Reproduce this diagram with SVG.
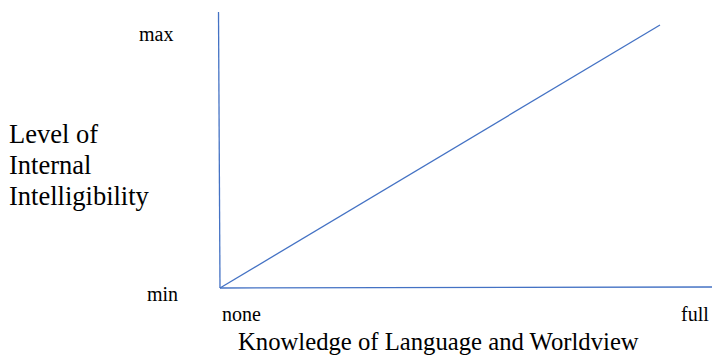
<svg xmlns="http://www.w3.org/2000/svg" width="713" height="358" viewBox="0 0 713 358">
<style>
text { font-family: "Liberation Serif", "Times New Roman", serif; fill: #000; }
.s { font-size: 20px; }
.l { font-size: 26.5px; }
.b { font-size: 24.7px; }
.ax { stroke: #4472C4; stroke-width: 1.3; fill: none; }
</style>
<rect width="713" height="358" fill="#fff"/>
<g id="connectors">
<line class="ax" x1="218.5" y1="12" x2="220" y2="288"/>
<line class="ax" x1="220" y1="288" x2="712" y2="287"/>
<line class="ax" x1="220" y1="288" x2="660" y2="25"/>
</g>
<g id="y-labels">
<text class="s" x="139" y="41">max</text>
<text class="s" x="147" y="301">min</text>
</g>
<g id="x-labels">
<text class="s" x="222" y="321">none</text>
<text class="s" x="681" y="321">full</text>
</g>
<g id="y-title">
<text class="l" x="9" y="143">Level of</text>
<text class="l" x="9" y="174">Internal</text>
<text class="l" x="9" y="205">Intelligibility</text>
</g>
<g id="x-title">
<text class="b" x="238" y="350">Knowledge of Language and Worldview</text>
</g>
</svg>
